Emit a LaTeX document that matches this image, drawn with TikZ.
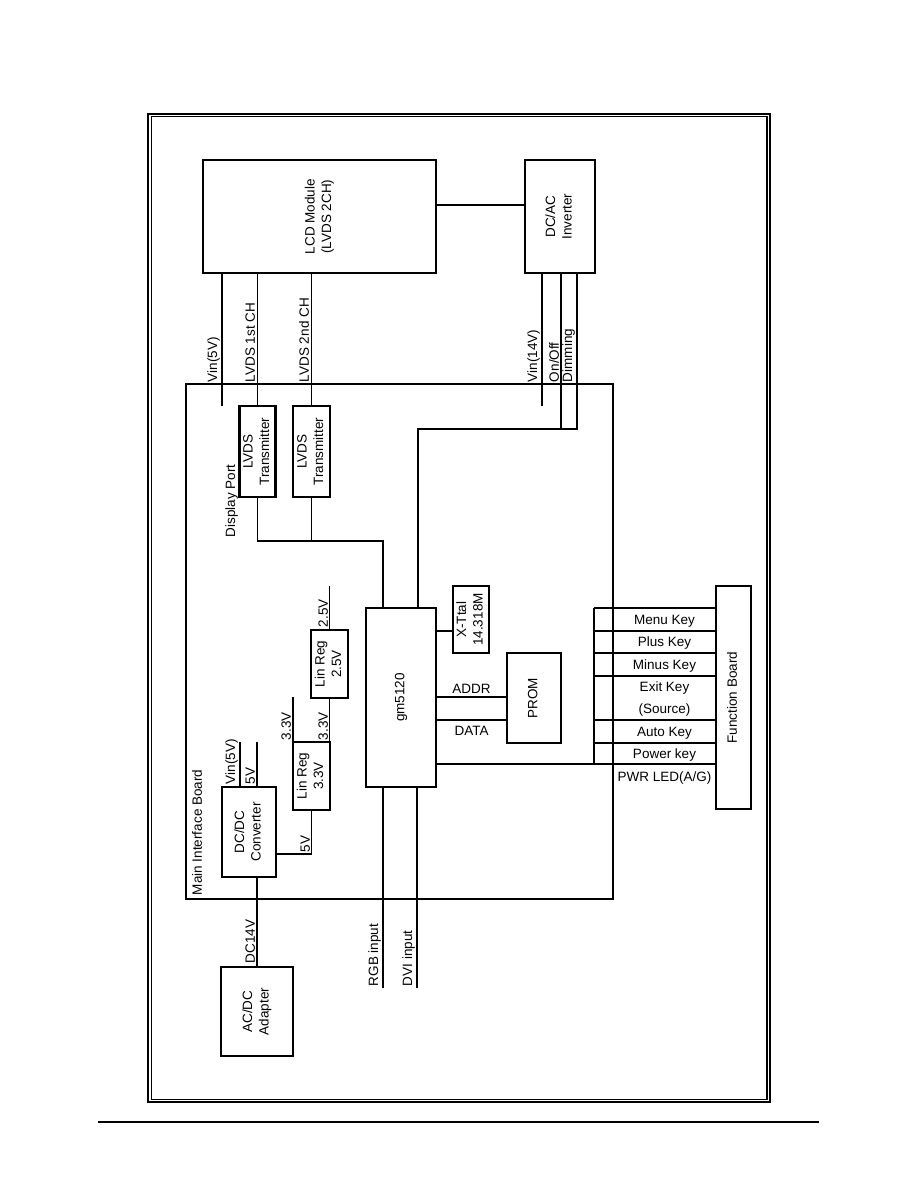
\documentclass[tikz,border=0pt]{standalone}
\usepackage{fontspec}
\setmainfont{Liberation Sans}
\usetikzlibrary{positioning}
\newcommand{\vtxt}[1]{\rotatebox{90}{\begin{tabular}{@{}c@{}}#1\end{tabular}}}

\begin{document}
\begin{tikzpicture}[
		x=1pt, y=-1pt,
		every node/.style={font=\fontsize{13.5}{16.5}\selectfont, inner sep=0pt, outer sep=0pt},
		blk/.style={draw, line width=2.8pt},
		fbox/.style={draw, line width=1.6pt},
		wire/.style={line width=1.2pt},
		vlbl/.style={rotate=90, anchor=south west, inner sep=1pt},
		]
		\useasboundingbox (0,0) rectangle (918,1188);
		% page frame
		\draw[wire] (148,114) rectangle (770,1102);
		\draw[wire] (151.5,116.5) rectangle (767,1099.5);
		\draw[line width=2.5pt] (98,1122) -- (819,1122);

		\node[blk, minimum width=233, minimum height=113] (lcd) at (319.5,216.5) {\vtxt{LCD Module\\(LVDS 2CH)}};
		\node[blk, minimum width=70, minimum height=113] (inv) at (560,216.5) {\vtxt{DC/AC\\Inverter}};
		\node[draw, line width=2.6pt, minimum width=427, minimum height=515] (board) at (399.5,641.5) {};
		\node[blk, minimum width=36, minimum height=91] (lvdsa) at (257.5,451.5) {\vtxt{LVDS\\Transmitter}};
		\node[blk, minimum width=37, minimum height=91] (lvdsb) at (311.5,451.5) {\vtxt{LVDS\\Transmitter}};
		\node[blk, minimum width=70, minimum height=179] (gm) at (401,697.5) {\vtxt{gm5120}};
		\node[blk, minimum width=36, minimum height=67] (xtal) at (471,619.5) {\vtxt{X-Ttal\\14.318M}};
		\node[blk, minimum width=54, minimum height=90] (prom) at (534,698) {\vtxt{PROM}};
		\node[blk, minimum width=37, minimum height=68] (lrb) at (329.5,664) {\vtxt{Lin Reg\\2.5V}};
		\node[blk, minimum width=37, minimum height=68] (lra) at (311.5,776) {\vtxt{Lin Reg\\3.3V}};
		\node[blk, minimum width=54, minimum height=90] (dcdc) at (249,832) {\vtxt{DC/DC\\Converter}};
		\node[blk, minimum width=72, minimum height=89] (acdc) at (257,1011.5) {\vtxt{AC/DC\\Adapter}};
		\node[fbox, minimum width=35, minimum height=223] (fb) at (733.5,697.5) {\vtxt{Function Board}};

		% LCD side
		\draw[wire] (lcd.east |- 0,205) -- (inv.west |- 0,205);
		\coordinate (v5) at (222,406);
		\draw[wire] (v5 |- lcd.south) -- (v5);
		\draw[wire] (lvdsa.north) -- (lvdsa.north |- lcd.south);
		\draw[wire] (lvdsb.north) -- (lvdsb.north |- lcd.south);
		\coordinate (v14) at (542,406);
		\draw[wire] (v14 |- inv.south) -- (v14);
		\coordinate (ctl) at (418,429);
		\draw[wire] (inv.south -| 577,0) |- (ctl) -- (ctl |- gm.north);
		\draw[wire] (inv.south -| 561,0) -- (561,429);
		\draw[wire] (lvdsa.south) -- (lvdsa.south |- 0,541) -| (gm.north -| 383,0);
		\draw[wire] (lvdsb.south) -- (lvdsb.south |- 0,541);

		% gm5120 side
		\draw[wire] (gm.east |- 0,631) -- (xtal.west |- 0,631);
		\draw[wire] (gm.east |- 0,697) -- (prom.west |- 0,697) node[midway, above=4pt] (addr) {ADDR};
		\draw[wire] (gm.east |- 0,720) -- (prom.west |- 0,720) node[midway, below=6pt] (data) {DATA};
		\draw[line width=2pt] (gm.east |- 0,764) -- (fb.west |- 0,764);
		\foreach \y/\w in {608/1.2, 631/1.2, 653/1.8, 676/1.2, 720/1.2, 743/1.2}
			\draw[line width=\w pt] (594,\y) -- (fb.west |- 0,\y);
		\draw[wire] (594,608) -- (594,764);
		\foreach \y/\t in {621/{Menu Key}, 643/{Plus Key}, 666/{Minus Key}, 688/{Exit Key}, 710/{(Source)}, 733/{Auto Key}, 755/{Power key}, 778/{PWR LED(A/G)}}
			\node (k\y) at (664.5,\y) {\t};

		% power
		\draw[wire] (lrb.north) -- (lrb.north |- 0,586);
		\draw[wire] (lra.north -| lrb.south) -- (lrb.south);
		\draw[wire] (lra.north west) -- (lra.north west |- 0,697);
		\draw[wire] (dcdc.east |- 0,854) -| (lra.south);
		\draw[wire] (dcdc.north -| 240,0) -- (240,742);
		\draw[wire] (dcdc.north -| 257,0) -- (257,742);
		\draw[wire] (acdc.north) -- (acdc.north |- dcdc.south);
		\draw[wire] (gm.south -| 383,0) -- (383,988);
		\draw[wire] (gm.south -| 417,0) -- (417,988);

		% labels
		\node[vlbl] (lvin5) at (221,383) {Vin(5V)};
		\node[vlbl] (lch1) at (256,383) {LVDS 1st CH};
		\node[vlbl] (lch2) at (310,383) {LVDS 2nd CH};
		\node[vlbl] (lvin14) at (541,383) {Vin(14V)};
		\node[vlbl] (lonoff) at (560,383) {On/Off};
		\node[vlbl] (ldim) at (576,383) {Dimming};
		\node[vlbl] (ldp) at (239,538) {Display Port};
		\node[vlbl] (l25) at (329,628) {2.5V};
		\node[vlbl] (l33a) at (329,741) {3.3V};
		\node[vlbl] (l33b) at (292,741) {3.3V};
		\node[vlbl] (l5a) at (311,853) {5V};
		\node[vlbl] (l5b) at (256,785) {5V};
		\node[vlbl] (lvin5b) at (239,785) {Vin(5V)};
		\node[vlbl] (lboard) at (203,896) {Main Interface Board};
		\node[vlbl] (ldc14) at (256,964) {DC14V};
		\node[vlbl] (lrgb) at (382,987) {RGB input};
		\node[vlbl] (ldvi) at (416,987) {DVI input};
\end{tikzpicture}
\end{document}
